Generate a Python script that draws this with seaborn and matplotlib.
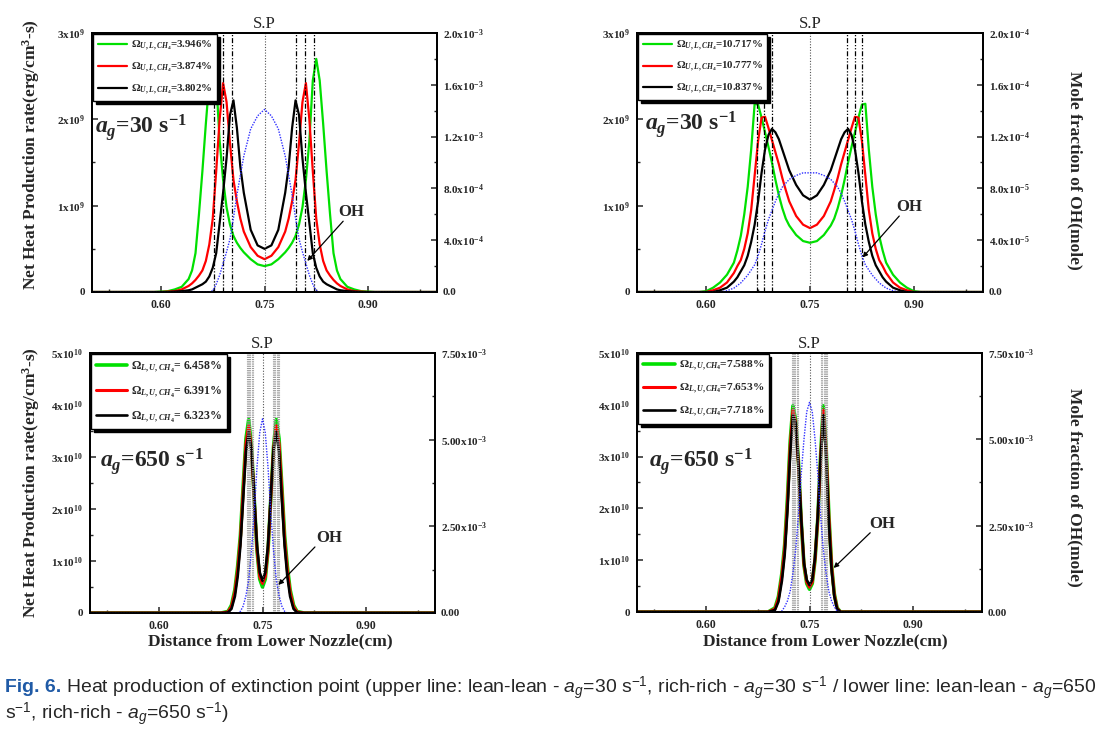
import matplotlib
matplotlib.use("Agg")
import matplotlib.pyplot as plt
import seaborn as sns
from matplotlib import font_manager
from matplotlib.ticker import FixedLocator, MultipleLocator

# ---- values ----
# upper row: distance (cm) and net heat production (x1e9), OH mole fraction
x_top = [0.50, 0.59, 0.60, 0.61, 0.62, 0.63, 0.64, 0.645, 0.65, 0.655, 0.66, 0.665, 0.67,
         0.675, 0.68, 0.685, 0.69, 0.695, 0.70, 0.705, 0.71, 0.715, 0.72, 0.73, 0.74, 0.75,
         0.76, 0.77, 0.78, 0.785, 0.79, 0.795, 0.80, 0.805, 0.81, 0.815, 0.82, 0.825, 0.83,
         0.835, 0.84, 0.845, 0.85, 0.855, 0.86, 0.87, 0.88, 0.89, 0.90, 0.91, 1.00]

tl_green = [0, 0, 0.005, 0.01, 0.03, 0.06, 0.15, 0.25, 0.45, 0.9, 1.4, 1.95, 2.45,
            2.7, 2.45, 1.75, 1.3, 0.98, 0.78, 0.65, 0.57, 0.51, 0.46, 0.38, 0.32, 0.30,
            0.32, 0.38, 0.46, 0.51, 0.57, 0.65, 0.78, 0.98, 1.3, 1.75, 2.45, 2.7, 2.45,
            1.95, 1.4, 0.9, 0.45, 0.25, 0.15, 0.06, 0.03, 0.01, 0.005, 0, 0]
tl_red = [0, 0, 0, 0.005, 0.01, 0.03, 0.07, 0.1, 0.14, 0.19, 0.25, 0.36, 0.55,
          0.85, 1.4, 2.0, 2.42, 2.2, 1.72, 1.3, 1.05, 0.85, 0.7, 0.52, 0.42, 0.38,
          0.42, 0.52, 0.7, 0.85, 1.05, 1.3, 1.72, 2.2, 2.42, 2.0, 1.4, 0.85, 0.55,
          0.36, 0.25, 0.19, 0.14, 0.1, 0.07, 0.03, 0.01, 0.005, 0, 0, 0]
tl_black = [0, 0, 0, 0, 0.005, 0.01, 0.02, 0.03, 0.05, 0.07, 0.09, 0.12, 0.18,
            0.28, 0.45, 0.8, 1.15, 1.55, 2.05, 2.22, 1.9, 1.45, 1.15, 0.72, 0.54, 0.5,
            0.54, 0.72, 1.15, 1.45, 1.9, 2.22, 2.05, 1.55, 1.15, 0.8, 0.45, 0.28, 0.18,
            0.12, 0.09, 0.07, 0.05, 0.03, 0.02, 0.01, 0.005, 0, 0, 0, 0]
tl_oh = [0, 0, 0, 0, 0, 0, 0, 0, 0, 0, 0, 0, 0,
         0.01, 0.06, 0.13, 0.22, 0.31, 0.41, 0.57, 0.75, 0.9, 1.05, 1.26, 1.36, 1.41,
         1.36, 1.26, 1.05, 0.9, 0.75, 0.57, 0.41, 0.31, 0.22, 0.13, 0.06, 0.01, 0,
         0, 0, 0, 0, 0, 0, 0, 0, 0, 0, 0, 0]

tr_green = [0, 0, 0.01, 0.05, 0.11, 0.2, 0.34, 0.48, 0.65, 0.9, 1.22, 1.65, 2.18,
            2.17, 2.02, 1.85, 1.68, 1.5, 1.3, 1.12, 0.97, 0.85, 0.77, 0.66, 0.59, 0.57,
            0.59, 0.66, 0.77, 0.85, 0.97, 1.12, 1.3, 1.5, 1.68, 1.85, 2.02, 2.17, 2.18,
            1.65, 1.22, 0.9, 0.65, 0.48, 0.34, 0.2, 0.11, 0.05, 0.01, 0, 0]
tr_red = [0, 0, 0, 0.02, 0.05, 0.11, 0.22, 0.3, 0.37, 0.5, 0.68, 0.95, 1.35,
          1.75, 2.02, 2.03, 1.9, 1.76, 1.62, 1.48, 1.32, 1.18, 1.05, 0.88, 0.78, 0.74,
          0.78, 0.88, 1.05, 1.18, 1.32, 1.48, 1.62, 1.76, 1.9, 2.03, 2.02, 1.75, 1.35,
          0.95, 0.68, 0.5, 0.37, 0.3, 0.22, 0.11, 0.05, 0.02, 0, 0, 0]
tr_black = [0, 0, 0, 0, 0.02, 0.05, 0.12, 0.17, 0.24, 0.31, 0.42, 0.58, 0.78,
            1.05, 1.38, 1.65, 1.82, 1.89, 1.85, 1.77, 1.65, 1.53, 1.41, 1.24, 1.12, 1.07,
            1.12, 1.24, 1.41, 1.53, 1.65, 1.77, 1.85, 1.89, 1.82, 1.65, 1.38, 1.05, 0.78,
            0.58, 0.42, 0.31, 0.24, 0.17, 0.12, 0.05, 0.02, 0, 0, 0, 0]
tr_oh = [0, 0, 0, 0, 0, 0.01, 0.03, 0.05, 0.07, 0.1, 0.13, 0.17, 0.21,
         0.28, 0.37, 0.47, 0.56, 0.63, 0.7, 0.76, 0.81, 0.84, 0.87, 0.9, 0.92, 0.92,
         0.92, 0.9, 0.87, 0.84, 0.81, 0.76, 0.7, 0.63, 0.56, 0.47, 0.37, 0.28, 0.21,
         0.17, 0.13, 0.1, 0.07, 0.05, 0.03, 0.01, 0, 0, 0, 0, 0]

# lower row: heat production (x1e10), OH mole fraction (x1e-3)
x_bot = [0.50, 0.69, 0.70, 0.705, 0.71, 0.714, 0.718, 0.722, 0.726, 0.73, 0.734, 0.738,
         0.742, 0.746, 0.75, 0.754, 0.758, 0.762, 0.766, 0.77, 0.774, 0.778, 0.782,
         0.786, 0.79, 0.795, 0.80, 0.81, 1.00]

bl_green = [0, 0, 0.03, 0.15, 0.45, 0.9, 1.5, 2.45, 3.35, 3.72, 3.2, 2.2, 1.2, 0.65, 0.5,
            0.65, 1.2, 2.2, 3.2, 3.72, 3.35, 2.45, 1.5, 0.9, 0.45, 0.15, 0.03, 0, 0]
bl_red = [0, 0, 0.02, 0.12, 0.4, 0.82, 1.42, 2.35, 3.25, 3.6, 3.15, 2.2, 1.22, 0.7, 0.57,
          0.7, 1.22, 2.2, 3.15, 3.6, 3.25, 2.35, 1.42, 0.82, 0.4, 0.12, 0.02, 0, 0]
bl_black = [0, 0, 0.01, 0.08, 0.32, 0.7, 1.3, 2.2, 3.1, 3.48, 3.15, 2.25, 1.3, 0.78, 0.62,
            0.78, 1.3, 2.25, 3.15, 3.48, 3.1, 2.2, 1.3, 0.7, 0.32, 0.08, 0.01, 0, 0]
bl_oh = [0, 0, 0, 0, 0, 0, 0.05, 0.2, 0.5, 0.95, 1.8, 2.9, 4.2, 5.2, 5.6,
         5.2, 4.2, 2.9, 1.8, 0.95, 0.5, 0.2, 0.05, 0, 0, 0, 0, 0, 0]

br_green = [0, 0, 0.08, 0.3, 0.75, 1.3, 2.2, 3.3, 3.98, 3.7, 2.9, 1.75, 0.9, 0.55, 0.44,
            0.55, 1.0, 1.8, 3.0, 3.98, 3.2, 1.9, 0.9, 0.35, 0.08, 0, 0, 0, 0]
br_red = [0, 0, 0.06, 0.26, 0.7, 1.22, 2.1, 3.2, 3.9, 3.65, 2.85, 1.75, 0.92, 0.58, 0.48,
          0.58, 1.02, 1.8, 2.95, 3.9, 3.15, 1.85, 0.88, 0.33, 0.07, 0, 0, 0, 0]
br_black = [0, 0, 0.04, 0.2, 0.6, 1.1, 1.95, 3.05, 3.8, 3.65, 2.85, 1.8, 0.95, 0.62, 0.52,
            0.62, 1.05, 1.85, 2.95, 3.8, 3.05, 1.75, 0.82, 0.3, 0.06, 0, 0, 0, 0]
br_oh = [0, 0, 0, 0, 0.03, 0.15, 0.32, 0.6, 1.13, 1.8, 2.8, 4.0, 5.0, 5.8, 6.07,
         5.8, 5.0, 4.0, 2.8, 1.8, 1.13, 0.6, 0.32, 0.15, 0.03, 0, 0, 0, 0]

# peak locations marked with vertical lines, stagnation point
tl_marks = [0.677, 0.690, 0.703, 0.796, 0.809, 0.822]
tr_marks = [0.673, 0.683, 0.695, 0.803, 0.815, 0.825]
bl_marks = [0.727, 0.7288, 0.7306, 0.7324, 0.7342, 0.736,
            0.765, 0.7668, 0.7686, 0.7704, 0.7722, 0.774]
br_marks = [0.724, 0.7258, 0.7276, 0.7294, 0.7312, 0.733,
            0.767, 0.7688, 0.7706, 0.7724, 0.7742, 0.776]
sp_pos = 0.75

tl_labels = [r"$\mathit{\Omega}_{U,L,CH_4}$=3.946%", r"$\mathit{\Omega}_{U,L,CH_4}$=3.874%",
             r"$\mathit{\Omega}_{U,L,CH_4}$=3.802%"]
tr_labels = [r"$\mathit{\Omega}_{U,L,CH_4}$=10.717%", r"$\mathit{\Omega}_{U,L,CH_4}$=10.777%",
             r"$\mathit{\Omega}_{U,L,CH_4}$=10.837%"]
bl_labels = [r"$\mathit{\Omega}_{L,U,CH_4}$= 6.458%", r"$\mathit{\Omega}_{L,U,CH_4}$= 6.391%",
             r"$\mathit{\Omega}_{L,U,CH_4}$= 6.323%"]
br_labels = [r"$\mathit{\Omega}_{L,U,CH_4}$=7.588%", r"$\mathit{\Omega}_{L,U,CH_4}$=7.653%",
             r"$\mathit{\Omega}_{L,U,CH_4}$=7.718%"]

x_ticks = [0.60, 0.75, 0.90]
x_labels = ["0.60", "0.75", "0.90"]
x_minor = [0.525, 0.675, 0.825, 0.975]
heat_ticks_top = [0, 1, 2, 3]
heat_labels_top = ["0", "1x10$^9$", "2x10$^9$", "3x10$^9$"]
heat_ticks_bot = [0, 1, 2, 3, 4, 5]
heat_labels_bot = ["0", "1x10$^{10}$", "2x10$^{10}$", "3x10$^{10}$", "4x10$^{10}$", "5x10$^{10}$"]
oh_ticks_top = [0, 0.4, 0.8, 1.2, 1.6, 2.0]
oh_labels_tl = ["0.0", "4.0x10$^{-4}$", "8.0x10$^{-4}$", "1.2x10$^{-3}$", "1.6x10$^{-3}$", "2.0x10$^{-3}$"]
oh_labels_tr = ["0.0", "4.0x10$^{-5}$", "8.0x10$^{-5}$", "1.2x10$^{-4}$", "1.6x10$^{-4}$", "2.0x10$^{-4}$"]
oh_ticks_bot = [0, 2.5, 5.0, 7.5]
oh_labels_bot = ["0.00", "2.50x10$^{-3}$", "5.00x10$^{-3}$", "7.50x10$^{-3}$"]

# ---- style ----
names = {f.name for f in font_manager.fontManager.ttflist}
cap_family = "Liberation Sans Narrow" if "Liberation Sans Narrow" in names else "Liberation Sans"

sns.set_style("ticks")
plt.rcParams["font.family"] = ["Liberation Serif", "DejaVu Serif"]
plt.rcParams["font.weight"] = "bold"
plt.rcParams["mathtext.fontset"] = "custom"
plt.rcParams["mathtext.rm"] = "Liberation Serif:weight=bold"
plt.rcParams["mathtext.it"] = "Liberation Serif:style=italic:weight=bold"
plt.rcParams["mathtext.bf"] = "Liberation Serif:weight=bold"
plt.rcParams["mathtext.sf"] = cap_family + ":weight=normal"
plt.rcParams["mathtext.tt"] = cap_family + ":style=italic:weight=normal"
plt.rcParams["axes.linewidth"] = 1.3
plt.rcParams["axes.edgecolor"] = "black"

W, H = 1104, 738
fig = plt.figure(figsize=(W / 100, H / 100), dpi=100)
colors = ["#00e000", "#ff0000", "#000000"]


def draw_panel(box, x, curves, widths, labels, oh, marks, mark_kw, hticks, hlabels, hminor,
               oticks, olabels, ominor, rate, rate_pos, oh_txt, oh_tail, oh_head, leg):
    left, top, right, bottom = box
    ax = fig.add_axes([left / W, 1 - bottom / H, (right - left) / W, (bottom - top) / H])
    handles = []
    for y, c, lw in zip(curves, colors, widths):
        sns.lineplot(x=x, y=y, ax=ax, color=c, linewidth=lw, estimator=None,
                     sort=False, legend=False)
        handles.append(ax.lines[-1])
    for m in marks:
        ax.axvline(m, **mark_kw)
    ax.axvline(sp_pos, color="#555555", lw=0.8, ls=(0, (1, 1.5)))
    ax.set_xlim(0.5, 1.0)
    ax.set_ylim(0, hticks[-1])
    ax.xaxis.set_major_locator(FixedLocator(x_ticks))
    ax.set_xticklabels(x_labels)
    ax.xaxis.set_minor_locator(FixedLocator(x_minor))
    ax.set_yticks(hticks)
    ax.set_yticklabels(hlabels)
    ax.yaxis.set_minor_locator(MultipleLocator(hminor))
    ax.tick_params(which="both", direction="in", top=False, right=False)
    ax.tick_params(which="major", length=4, width=1.1, labelsize=8, pad=5)
    ax.tick_params(axis="x", which="major", labelsize=8.5)
    ax.tick_params(which="minor", length=2.5, width=1)
    ax.set_xlabel("")
    ax.set_ylabel("")

    ax2 = ax.twinx()
    sns.lineplot(x=x, y=oh, ax=ax2, color="#3030ff", linewidth=1.0, linestyle=(0, (1, 1)),
                 estimator=None, sort=False, legend=False)
    ax2.set_ylim(0, oticks[-1])
    ax2.set_yticks(oticks)
    ax2.set_yticklabels(olabels)
    ax2.yaxis.set_minor_locator(MultipleLocator(ominor))
    ax2.tick_params(which="both", direction="in")
    ax2.tick_params(which="major", length=4, width=1.1, labelsize=8, pad=4)
    ax2.tick_params(which="minor", length=2.5, width=1)
    ax2.set_ylabel("")

    ax.text(sp_pos, 1.004, "S.P", transform=ax.get_xaxis_transform(), ha="center",
            va="bottom", fontsize=12, fontweight="normal")
    ax.text(rate_pos[0], rate_pos[1], rate, transform=ax.transAxes, fontsize=17,
            fontweight="bold", va="baseline")
    ax.text(oh_txt[0], oh_txt[1], "OH", fontsize=12, fontweight="bold", ha="center", va="center")
    ax.annotate("", xy=oh_head, xytext=oh_tail,
                arrowprops=dict(arrowstyle="-|>", color="k", lw=0.9, mutation_scale=7,
                                shrinkA=0, shrinkB=0))

    size, hlen, spacing = leg
    lg = ax2.legend(handles, labels, loc="upper left", prop={"weight": "bold", "size": size},
                    handlelength=hlen, fancybox=False, edgecolor="k", framealpha=1,
                    shadow={"color": "k", "alpha": 1}, borderaxespad=0.12,
                    labelspacing=spacing, handletextpad=0.35, borderpad=0.4)
    lg.get_frame().set_linewidth(1.0)
    return ax


top_marks = dict(color="k", lw=0.9, ls=(0, (4, 1.5, 1, 1.5, 1, 1.5)))
bot_marks = dict(color="#9a9a9a", lw=0.8, ls=(0, (1, 1)))

draw_panel((92, 33, 437, 292), x_top, [tl_green, tl_red, tl_black], [1.6, 1.6, 1.6], tl_labels,
           tl_oh, tl_marks, top_marks, heat_ticks_top, heat_labels_top, 0.5,
           oh_ticks_top, oh_labels_tl, 0.2, r"$a_g$=30 s$^{-1}$", (0.01, 0.614),
           (0.876, 0.93), (0.864, 0.82), (0.812, 0.36), (7.8, 2.7, 0.72))
draw_panel((637, 33, 983, 292), x_top, [tr_green, tr_red, tr_black], [1.6, 1.6, 1.6], tr_labels,
           tr_oh, tr_marks, top_marks, heat_ticks_top, heat_labels_top, 0.5,
           oh_ticks_top, oh_labels_tr, 0.2, r"$a_g$=30 s$^{-1}$", (0.023, 0.625),
           (0.894, 0.98), (0.879, 0.88), (0.826, 0.40), (7.8, 2.7, 0.68))
draw_panel((90, 353, 435, 613), x_bot, [bl_green, bl_red, bl_black], [2.6, 2.2, 1.9], bl_labels,
           bl_oh, bl_marks, bot_marks, heat_ticks_bot, heat_labels_bot, 0.5,
           oh_ticks_bot, oh_labels_bot, 1.25, r"$a_g$=650 s$^{-1}$", (0.03, 0.56),
           (0.846, 1.44), (0.826, 1.27), (0.773, 0.54), (8.5, 2.6, 0.8))
draw_panel((637, 353, 982, 612), x_bot, [br_green, br_red, br_black], [2.6, 2.2, 1.9], br_labels,
           br_oh, br_marks, bot_marks, heat_ticks_bot, heat_labels_bot, 0.5,
           oh_ticks_bot, oh_labels_bot, 1.25, r"$a_g$=650 s$^{-1}$", (0.035, 0.56),
           (0.855, 1.70), (0.838, 1.53), (0.785, 0.85), (8.2, 2.8, 0.78))

ylab = "Net Heat Production rate(erg/cm$^3$-s)"
fig.text(31 / W, 1 - 155 / H, ylab, rotation=90, ha="center", va="center", fontsize=12.5)
fig.text(31 / W, 1 - 483 / H, ylab, rotation=90, ha="center", va="center", fontsize=12.5)
fig.text(1075 / W, 1 - 170 / H, "Mole fraction of OH(mole)", rotation=270, ha="center",
         va="center", fontsize=12.5)
fig.text(1075 / W, 1 - 487 / H, "Mole fraction of OH(mole)", rotation=270, ha="center",
         va="center", fontsize=12.5)
fig.text(270 / W, 1 - 641 / H, "Distance from Lower Nozzle(cm)", ha="center", va="center",
         fontsize=12.5)
fig.text(825 / W, 1 - 641 / H, "Distance from Lower Nozzle(cm)", ha="center", va="center",
         fontsize=12.5)

# caption
ag = r"$\mathtt{a_g}$"
s1 = r"s$^{\mathsf{-1}}$"
cap1 = (" Heat production of extinction point (upper line: lean-lean - " + ag + "=30 " + s1
        + ", rich-rich - " + ag + "=30 " + s1 + " / lower line: lean-lean - " + ag + "=650")
cap2 = s1 + ", rich-rich - " + ag + "=650 " + s1 + ")"
fs = 12
t_fig = fig.text(5 / W, 1 - 688 / H, "Fig. 6.", color="#1f5aa6", fontweight="bold",
                 fontsize=fs, family=cap_family, va="center")
t_c1 = fig.text(0, 1 - 688 / H, cap1, fontweight="normal", fontsize=fs, family=cap_family,
                va="center")
t_c2 = fig.text(5 / W, 1 - 714 / H, cap2, fontweight="normal", fontsize=fs, family=cap_family,
                va="center")
r = fig.canvas.get_renderer()
total = t_fig.get_window_extent(r).width + t_c1.get_window_extent(r).width
fs = fs * 1090 / total
for t in (t_fig, t_c1, t_c2):
    t.set_fontsize(fs)
t_c1.set_x((5 + t_fig.get_window_extent(r).width) / W)

fig.savefig("out.png", dpi=100)
